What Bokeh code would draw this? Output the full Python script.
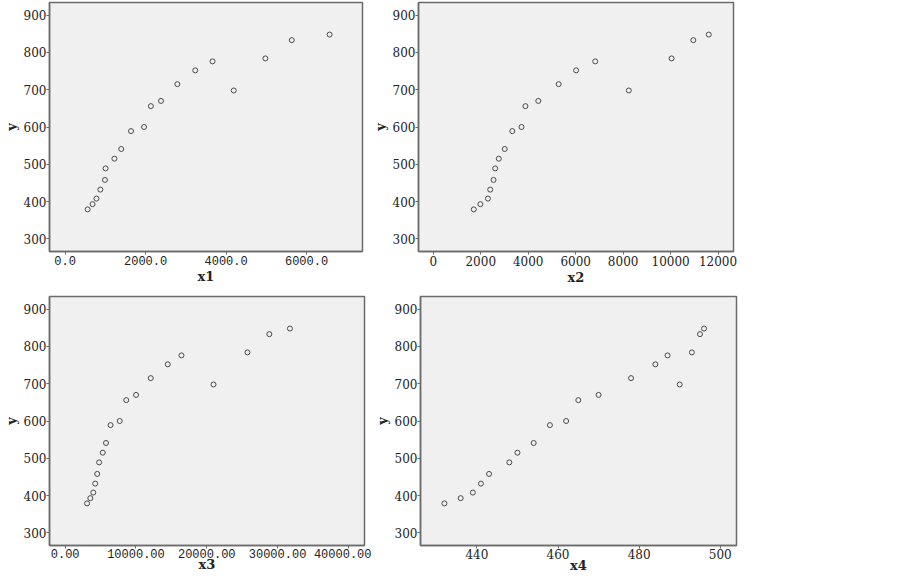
from bokeh.plotting import figure
from bokeh.layouts import column, row
from bokeh.models import FixedTicker, NumeralTickFormatter, Range1d
from bokeh.embed import file_html
from bokeh.resources import INLINE

# ---- data ----
y = [379, 393, 408, 432, 458, 489, 515, 541, 589, 600, 656, 670, 715, 752, 776, 698, 784, 833, 848]
x1 = [559, 681, 778, 875, 989, 1005, 1224, 1394, 1637, 1961, 2131, 2382, 2788, 3233, 3663, 4190, 4976, 5632, 6572]
x2 = [1706, 1983, 2302, 2399, 2538, 2607, 2760, 3010, 3329, 3717, 3883, 4424, 5284, 6019, 6824, 8239, 10042, 10957, 11609]
x3 = [3092, 3553, 3969, 4246, 4522, 4799, 5307, 5768, 6414, 7707, 8629, 10014, 12090, 14490, 16428, 20951, 25750, 28842, 31749]
x4 = [432, 436, 439, 441, 443, 448, 450, 454, 458, 462, 465, 470, 478, 484, 487, 490, 493, 495, 496]

y_ticks = [300, 400, 500, 600, 700, 800, 900]
x1_ticks = [0, 2000, 4000, 6000]
x2_ticks = [0, 2000, 4000, 6000, 8000, 10000, 12000]
x3_ticks = [0, 10000, 20000, 30000, 40000]
x4_ticks = [440, 460, 480, 500]

FRAME_COL = "#6b6b6b"
SERIF = "DejaVu Serif"


def make(xs, xr, xticks, fmt, mono, xlabel, w, h, bl, br, bt, bb, tl_stand, xl_stand):
    p = figure(width=w, height=h, x_range=Range1d(*xr), y_range=Range1d(266, 934),
               output_backend="svg", toolbar_location=None,
               min_border_left=bl, min_border_right=br,
               min_border_top=bt, min_border_bottom=bb)
    p.background_fill_color = "#f0f0f0"
    p.border_fill_color = "white"
    p.outline_line_color = FRAME_COL
    p.outline_line_width = 1.5
    p.grid.visible = False
    p.scatter(xs, y, size=5, fill_color=None, line_color="#4a4a4a", line_width=1)

    p.yaxis.ticker = FixedTicker(ticks=y_ticks)
    p.xaxis.ticker = FixedTicker(ticks=xticks)
    if fmt:
        p.xaxis.formatter = NumeralTickFormatter(format=fmt)
    for ax in (p.xaxis, p.yaxis):
        ax.axis_line_color = FRAME_COL
        ax.axis_line_width = 1.5
        ax.major_tick_line_color = FRAME_COL
        ax.major_tick_out = 3
        ax.major_tick_in = 0
        ax.minor_tick_out = 0
        ax.minor_tick_in = 0
        ax.major_label_text_color = "#222222"
        ax.axis_label_text_color = "#222222"
        ax.axis_label_text_font = SERIF
        ax.axis_label_text_font_style = "bold"
        ax.axis_label_text_font_size = "13px"
    p.yaxis.major_label_text_font = SERIF
    p.yaxis.major_label_text_font_size = "12px"
    p.yaxis.major_label_standoff = 0
    p.yaxis.axis_label = "y"
    p.yaxis.axis_label_standoff = 2
    p.xaxis.major_label_text_font = "Liberation Mono" if mono else SERIF
    p.xaxis.major_label_text_font_size = "12px"
    p.xaxis.major_label_standoff = tl_stand
    p.xaxis.axis_label = xlabel
    p.xaxis.axis_label_standoff = xl_stand
    return p


p1 = make(x1, (-389, 7390), x1_ticks, "0.0", True, "x1", 369, 289, 42, 7, 2, 38, 1, 1)
p2 = make(x2, (-624, 12651), x2_ticks, None, False, "x2", 369, 289, 42, 5, 2, 38, 1, 1)
p3 = make(x3, (-2213, 42282), x3_ticks, "0.00", True, "x3", 371, 286, 42, 7, 7, 26, 0, -4)
p4 = make(x4, (426.1, 504.0), x4_ticks, None, False, "x4", 370, 286, 42, 5, 7, 26, 0, -4)

layout = column(row(p1, p2), row(p3, p4))

open("out.html", "w").write(file_html(layout, INLINE))
